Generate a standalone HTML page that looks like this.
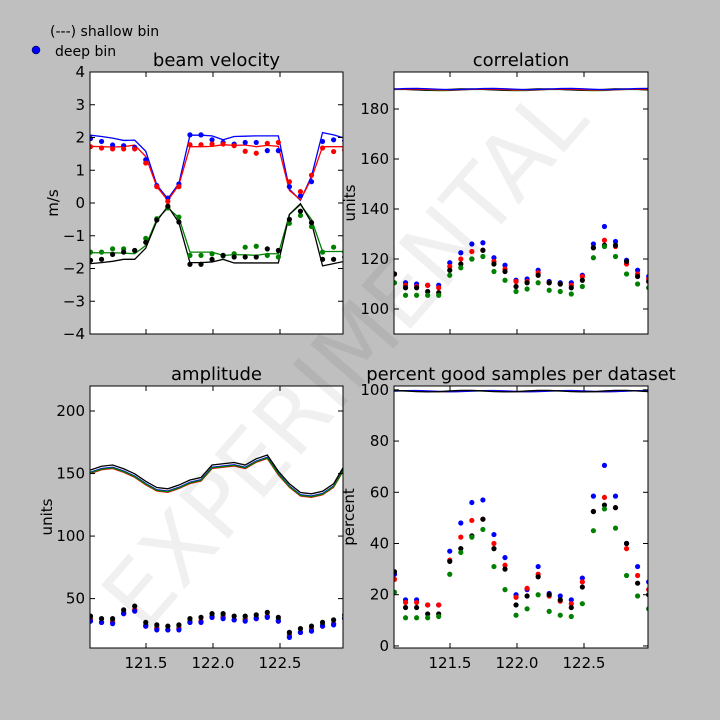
<!DOCTYPE html>
<html><head><meta charset="utf-8"><style>
html,body{margin:0;padding:0;background:#bfbfbf;}
svg{display:block;font-family:"DejaVu Sans","Liberation Sans",sans-serif;}
</style></head><body>
<svg id="s" width="720" height="720" xmlns="http://www.w3.org/2000/svg">
<rect width="720" height="720" fill="#bfbfbf"/>
</svg>
<script>
const S=document.getElementById('s');const NS='http://www.w3.org/2000/svg';
function el(t,a,p){const e=document.createElementNS(NS,t);for(const k in a)e.setAttribute(k,a[k]);(p||S).appendChild(e);return e;}
function txt(x,y,s,a){const e=el('text',Object.assign({x:x,y:y,fill:'#000'},a||{}));e.textContent=s;return e;}
const C={b:'#0000ff',r:'#ff0000',k:'#000000',g:'#008000'};
function panel(id,X0,Y0,X1,Y1,ymin,ymax,yticks,title,ylab,ylabx,xlabels,lines,dots){
  el('rect',{x:X0,y:Y0,width:X1-X0,height:Y1-Y0,fill:'#fff'});
  const cp=el('clipPath',{id:id});el('rect',{x:X0,y:Y0,width:X1-X0,height:Y1-Y0},cp);
  const g=el('g',{'clip-path':'url(#'+id+')'});
  const fx=i=>X0+0.5+11.05*i, fy=v=>Y1-(v-ymin)/(ymax-ymin)*(Y1-Y0);
  for(const c in lines){el('polyline',{points:lines[c].map((v,i)=>fx(i)+','+fy(v)).join(' '),fill:'none',stroke:C[c],'stroke-width':1.3},g);}
  for(const c in dots){dots[c].forEach((v,i)=>el('circle',{cx:fx(i),cy:fy(v),r:2.6,fill:C[c]},g));}
  el('rect',{x:X0,y:Y0,width:X1-X0,height:Y1-Y0,fill:'none',stroke:'#000','stroke-width':1});
  yticks.forEach(v=>{const y=fy(v);el('line',{x1:X0,x2:X0+5,y1:y,y2:y,stroke:'#000'});el('line',{x1:X1,x2:X1-5,y1:y,y2:y,stroke:'#000'});
    txt(X0-5,y+5,String(v).replace('-','\u2212'),{'text-anchor':'end','font-size':15});});
  [121.5,122.0,122.5].forEach(v=>{const x=X0+56+(v-121.5)*134;el('line',{x1:x,x2:x,y1:Y1,y2:Y1-5,stroke:'#000'});el('line',{x1:x,x2:x,y1:Y0,y2:Y0+5,stroke:'#000'});
    if(xlabels)txt(x,Y1+20,v.toFixed(1),{'text-anchor':'middle','font-size':15});});
  txt((X0+X1)/2,Y0-6,title,{'text-anchor':'middle','font-size':18});
  txt(0,0,ylab,{'text-anchor':'middle','font-size':15,transform:'translate('+ylabx+','+((Y0+Y1)/2)+') rotate(-90)'});
}
panel('c1',90,72,343,334,-4,4,[-4,-3,-2,-1,0,1,2,3,4],'beam velocity','m/s',58,false,
{b:[2.07,2.03,1.98,1.91,1.92,1.58,0.55,0.13,0.6,2.07,2.07,2.05,1.93,2.03,2.04,2.05,2.05,2.05,0.42,0.08,0.82,2.15,2.08,1.98],
 r:[1.73,1.72,1.71,1.72,1.77,1.42,0.5,0.08,0.55,1.72,1.72,1.73,1.78,1.76,1.77,1.72,1.76,1.73,0.38,0.1,0.75,1.72,1.72,1.72],
 g:[-1.52,-1.52,-1.52,-1.53,-1.55,-1.3,-0.5,-0.15,-0.45,-1.5,-1.5,-1.5,-1.6,-1.58,-1.58,-1.6,-1.55,-1.55,-0.35,-0.05,-0.5,-1.48,-1.48,-1.48],
 k:[-1.85,-1.82,-1.78,-1.72,-1.72,-1.38,-0.55,-0.1,-0.6,-1.82,-1.82,-1.8,-1.72,-1.83,-1.83,-1.83,-1.83,-1.83,-0.35,-0.02,-0.6,-1.92,-1.85,-1.78]},
{b:[1.97,1.88,1.77,1.75,1.7,1.32,0.53,0.15,0.58,2.08,2.08,1.93,1.85,1.8,1.85,1.85,1.6,1.6,0.5,0.22,0.65,1.88,1.93,1.9],
 r:[1.72,1.68,1.65,1.65,1.65,1.22,0.5,0.05,0.5,1.78,1.78,1.8,1.8,1.75,1.58,1.52,1.82,1.85,0.65,0.35,0.85,1.68,1.57,1.62],
 g:[-1.5,-1.5,-1.4,-1.4,-1.45,-1.08,-0.48,-0.15,-0.43,-1.6,-1.6,-1.55,-1.62,-1.55,-1.35,-1.32,-1.6,-1.65,-0.62,-0.38,-0.72,-1.5,-1.35,-1.5],
 k:[-1.75,-1.72,-1.57,-1.5,-1.45,-1.2,-0.52,-0.1,-0.58,-1.87,-1.87,-1.72,-1.6,-1.65,-1.65,-1.65,-1.4,-1.45,-0.5,-0.25,-0.6,-1.72,-1.72,-1.65]});
const cor=[[114,114,114,110.5],[110.5,109.5,108.5,105.5],[110,109,108.5,105.5],[109.5,109.5,107,105.5],[109.5,108.5,106.5,105.5],[118.5,117,115.5,113.5],[122.5,120,118,116.5],[126,123,120,120],[126.5,123.5,123.5,121],[120.5,119,118,115],[117.5,116,115,111.5],[111.5,111,109,107],[112,111,110.5,108],[115.5,114.5,113.5,110.5],[111,110.5,110.5,107.5],[110.5,110,110,107],[110.5,109.5,108.5,106],[113.5,113,111.5,109],[126,124.5,124.5,120.5],[133,127.5,125.5,125],[127,125,125.5,121],[119.5,118,119,114],[115.5,114,113,110],[113,112,111,108.5]];
const col=(a,j)=>a.map(r=>r[j]);
const wob=(base,amp,ph)=>Array.from({length:24},(_,i)=>base+amp*Math.sin(i*0.9+ph));
panel('c2',394,72,648,334,90,194.8,[100,120,140,160,180],'correlation','units',355,false,
{g:wob(187.6,0.25,1),k:wob(187.8,0.25,2),r:wob(187.8,0.2,0.5),b:wob(188,0.25,0)},
{b:col(cor,0),r:col(cor,1),k:col(cor,2),g:col(cor,3)});
const ar=[151,154,155,152,148,142,137,136,139,143,145,155,156,157,155,160,163,150,140,133,132,134,140,155];
const ad=[35,33,33,40,43,30,28,27,28,33,34,37,37,35,35,36,38,34,22,25,27,30,32,36];
panel('c3',90,386,343,648,10.5,220,[50,100,150,200],'amplitude','units',52,true,
{r:ar.map(v=>v-1),b:ar.map(v=>v),g:ar.map(v=>v-0.5),k:ar.map(v=>v+1.8)},
{g:ad.map((v,i)=>v-1+(i%3==1?-1:0)),r:ad.map(v=>v-2),b:ad.map((v,i)=>v-3+(i%2)),k:ad.map(v=>v+1)});
const pg=[[28,26,29,21],[18,17,15,11],[18,17,15,11],[16,16,12.5,11],[16,16,12.5,11.5],[37,33.5,33,28],[48,42.5,38,36.5],[56,49,43,42.5],[57,49.5,49.5,45.5],[43.5,40,38,31],[34.5,31.5,30,22],[20,19,16,12],[22,22.5,19.5,14.5],[31,28,27,20],[20.5,19.5,20,13.5],[19.5,17.5,18,12],[18,16.5,15,11.5],[26.5,25,23,16.5],[58.5,52.5,52.5,45],[70.5,58,55,53.5],[58.5,54,54,46],[40,38,40,27.5],[31,27.5,24.5,19.5],[25,22,20,14.5]];
panel('c4',394,386,648,648,-0.8,101.5,[0,20,40,60,80,100],'percent good samples per dataset','percent',354,true,
{g:wob(99.4,0.2,1),r:wob(99.5,0.2,0.5),b:wob(99.5,0.25,0),k:wob(99.5,0.3,2)},
{b:col(pg,0),r:col(pg,1),k:col(pg,2),g:col(pg,3)});
txt(50,36,'(---) shallow bin',{'font-size':14});
el('circle',{cx:36,cy:50,r:4,fill:'#0000ff',stroke:'#000','stroke-width':0.5});
txt(55,56,'deep bin',{'font-size':14});
txt(0,0,'EXPERIMENTAL',{'text-anchor':'middle','font-size':90,fill:'#000','fill-opacity':0.06,transform:'translate(368,378) rotate(-49)'});
</script>
</body></html>
